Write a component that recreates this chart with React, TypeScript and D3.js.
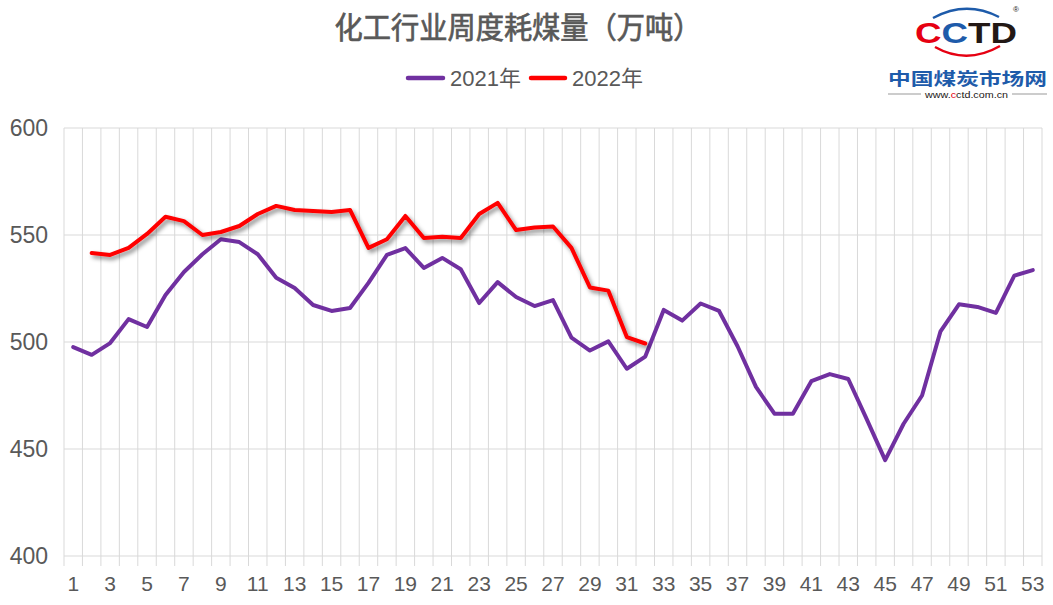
import React from 'react';
import * as d3 from 'd3';

// 周次 1-53
const weeks: number[] = d3.range(1, 54);

// 2021年 周度耗煤量（万吨）
const v2021: number[] = [
  497.6, 494, 499.5, 510.7, 507, 522, 532.7, 541, 548, 546.7,
  541, 530, 525.2, 517.3, 514.5, 515.9, 527.6, 540.7, 543.9, 534.6,
  539.3, 534, 518.2, 528, 521, 516.8, 519.6, 502, 496, 500.3,
  487.5, 493.2, 515, 510, 518, 514.5, 498, 479, 466.5, 466.5,
  481.7, 485, 482.7, 464, 444.8, 461.8, 475, 505, 517.6, 516.4,
  513.6, 531, 533.6,
];

// 2022年 (第1周无数据)
const v2022: (number | null)[] = [
  null,
  541.6, 540.7, 544, 550.5, 558.5, 556.5, 550, 551.4, 554.2, 559.8,
  563.6, 561.7, 561.2, 560.7, 561.7, 544, 548, 558.9, 548.6, 549.2,
  548.6, 559.8, 565, 552.3, 553.5, 554, 544, 525.5, 524, 502.3,
  499.3,
];

const yTicks: number[] = [400, 450, 500, 550, 600];

const W = 1053;
const H = 605;
const plot = { left: 64, right: 1042, top: 128, bottom: 556 };
const gray = '#595959';
const gridColor = '#D9D9D9';
const numFont = "'Liberation Sans', Arial, 'Noto Sans CJK SC', sans-serif";
const cjkFont = "'Noto Sans CJK SC', 'Liberation Sans', sans-serif";

const App: React.FC = () => {
  const x = d3.scaleBand<number>().domain(weeks).range([plot.left, plot.right]);
  const y = d3.scaleLinear().domain([400, 600]).range([plot.bottom, plot.top]);
  const cx = (w: number) => (x(w) as number) + x.bandwidth() / 2;

  const line = d3.line<number | null>()
    .defined(d => d !== null)
    .x((_, i) => cx(weeks[i]))
    .y(d => y(d as number));

  const boundaries = weeks.map(w => x(w) as number).concat([plot.right]);

  return (
    <svg width={W} height={H} style={{ position: 'absolute', left: 0, top: 0, background: '#fff' }}>
      <defs>
        <filter id="shadow" x="-10%" y="-10%" width="120%" height="130%">
          <feDropShadow dx="2.5" dy="3" stdDeviation="2" floodColor="#000" floodOpacity="0.45" />
        </filter>
      </defs>

      {/* 标题 */}
      <text x={518} y={38} textAnchor="middle" fontFamily={cjkFont} fontSize={29.5} fill={gray}
        stroke={gray} strokeWidth={0.7} textLength={367} lengthAdjust="spacingAndGlyphs">
        化工行业周度耗煤量（万吨）
      </text>

      {/* 图例 */}
      <line x1={408} x2={443} y1={78} y2={78} stroke="#7030A0" strokeWidth={4.5} strokeLinecap="round" />
      <text x={450} y={86} fontFamily={numFont} fontSize={22} fill={gray}>2021年</text>
      <line x1={531} x2={565} y1={78} y2={78} stroke="#FF0000" strokeWidth={4.5} strokeLinecap="round" />
      <text x={572} y={86} fontFamily={numFont} fontSize={22} fill={gray}>2022年</text>

      {/* 网格 */}
      {yTicks.map(t => (
        <line key={'h' + t} x1={plot.left} x2={plot.right} y1={y(t)} y2={y(t)} stroke={gridColor} strokeWidth={1} />
      ))}
      {boundaries.map((b, i) => (
        <line key={'v' + i} x1={b} x2={b} y1={plot.top} y2={plot.bottom + 10} stroke={gridColor} strokeWidth={1} />
      ))}

      {/* y 轴标签 */}
      {yTicks.map(t => (
        <text key={'yt' + t} x={48} y={y(t)} dy="0.36em" textAnchor="end" fontFamily={numFont} fontSize={23} fill={gray}>
          {t}
        </text>
      ))}

      {/* x 轴标签 */}
      {weeks.filter(w => w % 2 === 1).map(w => (
        <text key={'xt' + w} x={cx(w)} y={591} textAnchor="middle" fontFamily={numFont} fontSize={21} fill={gray}>
          {w}
        </text>
      ))}

      {/* 折线 */}
      <path d={line(v2021) || ''} fill="none" stroke="#7030A0" strokeWidth={4} strokeLinejoin="round" strokeLinecap="round" />
      <path d={line(v2022) || ''} fill="none" stroke="#FF0000" strokeWidth={4} strokeLinejoin="round" strokeLinecap="round" filter="url(#shadow)" />

      {/* CCTD 标志 */}
      <g>
        <path d="M933,18 Q966,0 999,17" fill="none" stroke="#1E5BAA" strokeWidth={2.5} />
        <path d="M935,47 Q967,65 1000,46" fill="none" stroke="#E60012" strokeWidth={2.5} />
        <text x={915} y={43} fontFamily={numFont} fontWeight="bold" fontSize={29} textLength={102} lengthAdjust="spacingAndGlyphs">
          <tspan fill="#E60012">C</tspan>
          <tspan fill="#1E5BAA">C</tspan>
          <tspan fill="#231815">TD</tspan>
        </text>
        <text x={1016} y={12} textAnchor="middle" fontFamily={numFont} fontSize={8} fill="#231815">®</text>
        <text x={888} y={85} fontFamily={cjkFont} fontWeight="bold" fontSize={17} fill="#1E5BAA" textLength={159} lengthAdjust="spacingAndGlyphs">
          中国煤炭市场网
        </text>
        <line x1={888} x2={921} y1={94} y2={94} stroke="#999" strokeWidth={1} />
        <line x1={1012} x2={1047} y1={94} y2={94} stroke="#999" strokeWidth={1} />
        <text x={925} y={97.5} fontFamily={numFont} fontSize={9} fill="#231815" textLength={83} lengthAdjust="spacingAndGlyphs">
          www.<tspan fill="#E60012">c</tspan>ctd.com.cn
        </text>
      </g>
    </svg>
  );
};

export default App;
